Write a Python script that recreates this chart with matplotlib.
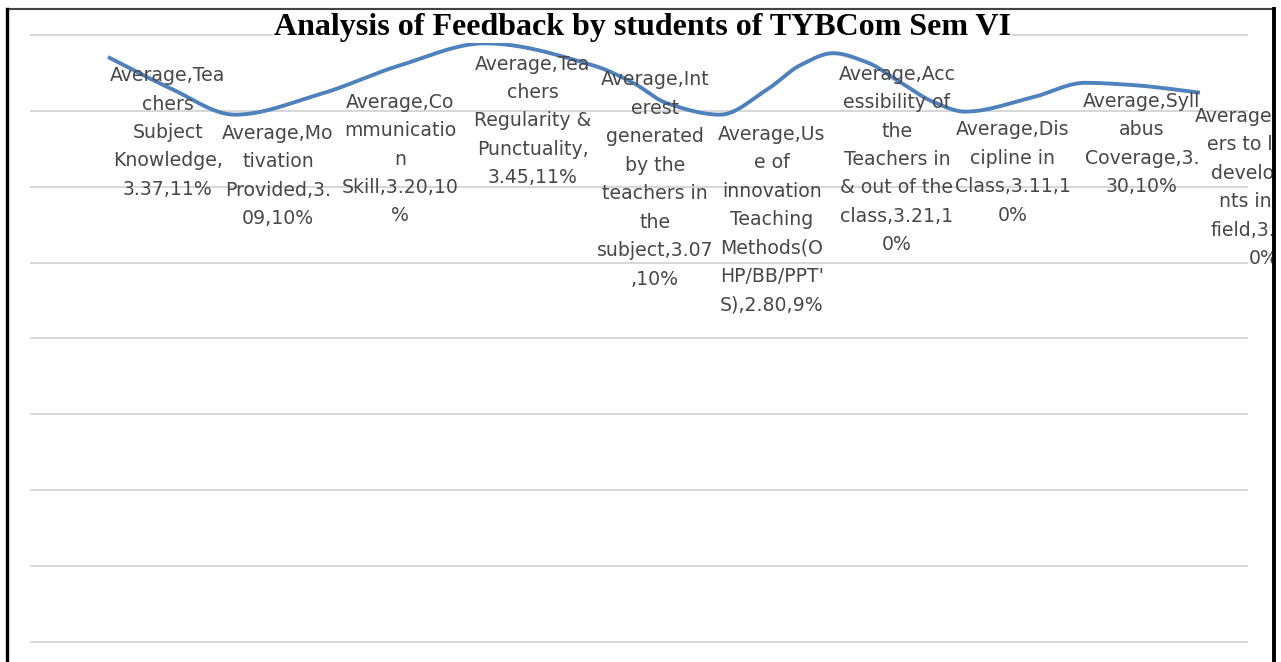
import numpy as np
import matplotlib
matplotlib.use("Agg")
import matplotlib.pyplot as plt
from matplotlib.lines import Line2D
from matplotlib.transforms import Bbox, TransformedBbox

# --- data ---
series_name = "Average"
categories = [
    "Teachers Subject Knowledge",
    "Motivation Provided",
    "Communication Skill",
    "Teachers Regularity & Punctuality",
    "Interest generated by the teachers in the subject",
    "Use of innovation Teaching Methods(OHP/BB/PPT'S)",
    "Accessibility of the Teachers in & out of the class",
    "Discipline in Class",
    "Syllabus Coverage",
    "Teachers to latest developments in the field",
]
values = [3.37, 3.09, 3.20, 3.45, 3.07, 2.80, 3.21, 3.11, 3.30, 3.25]
percents = [11, 10, 10, 11, 10, 9, 10, 10, 10, 10]

# the wavy blue line (chart units, value axis 0..8)
curve_x = [78, 140, 205, 290, 370, 455, 563, 603, 637, 690, 737, 770,
           803, 837, 870, 903, 935, 1003, 1055, 1103, 1170]
curve_y = [7.71, 7.30, 6.95, 7.22, 7.60, 7.89, 7.60, 7.37, 7.10, 6.95,
           7.28, 7.60, 7.76, 7.64, 7.38, 7.12, 6.99, 7.18, 7.37, 7.34, 7.24]

grid_values = [0, 1, 2, 3, 4, 5, 6, 7, 8]

# --- layout: where each label sits and how excel wrapped it ---
label_x = [138, 248, 370, 503, 625, 742, 867, 983, 1112, 1234]
label_y = [6.715, 6.142, 6.365, 6.867, 6.096, 5.568, 6.359, 6.188, 6.563, 5.990]
label_breaks = [
    [11, 5, 7, 10],
    [10, 8, 11],
    [10, 10, 1, 13],
    [11, 5, 12, 12],
    [11, 5, 9, 6, 11, 3, 12],
    [10, 4, 10, 8, 9, 10],
    [11, 13, 3, 11, 12, 12],
    [11, 10, 12],
    [12, 4, 11],
    [13, 13, 9, 10, 12],
]


def wrap_label(text, breaks):
    lines = []
    rest = text
    for n in breaks:
        lines.append(rest[:n].strip())
        rest = rest[n:].lstrip()
    lines.append(rest)
    return "\n".join(lines)


def smooth(xs, ys, steps=40):
    # monotone cubic (pchip) so the bumps stay where they were read
    x = np.asarray(xs, float)
    y = np.asarray(ys, float)
    h = np.diff(x)
    d = np.diff(y) / h
    m = np.zeros_like(y)
    for k in range(1, len(x) - 1):
        if d[k - 1] * d[k] > 0:
            w1 = 2 * h[k] + h[k - 1]
            w2 = h[k] + 2 * h[k - 1]
            m[k] = (w1 + w2) / (w1 / d[k - 1] + w2 / d[k])
    m[0] = d[0]
    m[-1] = d[-1]
    px, py = [], []
    for k in range(len(x) - 1):
        t = np.linspace(0, 1, steps)
        h00 = 2 * t**3 - 3 * t**2 + 1
        h10 = t**3 - 2 * t**2 + t
        h01 = -2 * t**3 + 3 * t**2
        h11 = t**3 - t**2
        px.append(x[k] + t * h[k])
        py.append(h00 * y[k] + h10 * h[k] * m[k] + h01 * y[k + 1] + h11 * h[k] * m[k + 1])
    return np.concatenate(px), np.concatenate(py)


W, H = 1281, 662
fig = plt.figure(figsize=(W / 100, H / 100), dpi=100)
fig.patch.set_facecolor("white")

# axes span: x from px 30 to 1248, y gridlines 0..8 at px 642..35
ppu = (642 - 35) / 8.0
ylo, yhi = -0.3, 8.3
bottom_px = 642 + 0.3 * ppu
top_px = 35 - 0.3 * ppu
ax = fig.add_axes([30 / W, (H - bottom_px) / H, (1248 - 30) / W, (bottom_px - top_px) / H])
ax.set_xlim(0, 1218)
ax.set_ylim(ylo, yhi)
ax.set_facecolor("none")
for s in ax.spines.values():
    s.set_visible(False)
ax.set_xticks([])
ax.set_yticks(grid_values)
ax.tick_params(axis="y", length=0, labelleft=False)
ax.yaxis.grid(True, color="#d6d6d6", linewidth=1.4)
ax.set_axisbelow(True)

sx, sy = smooth(curve_x, curve_y)
ax.plot(sx, sy, color="#4f81bd", linewidth=2.8, solid_capstyle="butt", zorder=3)

# the last label runs past the right frame and is cut there, as in the screenshot
clip = TransformedBbox(Bbox([[0, 0], [1272 / W, 1]]), fig.transFigure)
for i, cat in enumerate(categories):
    full = f"{series_name},{cat},{values[i]:.2f},{percents[i]}%"
    t = ax.text(label_x[i], label_y[i], wrap_label(full, label_breaks[i]),
                ha="center", va="center", multialignment="center",
                fontsize=13.6, family="DejaVu Sans", color="#484848",
                linespacing=1.63, zorder=4)
    t.set_clip_box(clip)
    t.set_clip_on(True)

fig.text(642 / W, 1 - 27 / H, "Analysis of Feedback by students of TYBCom Sem VI",
         ha="center", va="center", fontsize=23, fontweight="bold",
         family="Liberation Serif", color="black",
         bbox=dict(facecolor="white", edgecolor="none", pad=1))

# frame of the screenshot
fig.add_artist(Line2D([7 / W, 1274 / W], [1 - 9 / H, 1 - 9 / H], transform=fig.transFigure,
                      color="#444444", linewidth=1.5))
fig.add_artist(Line2D([7 / W, 7 / W], [0, 1 - 9 / H], transform=fig.transFigure,
                      color="black", linewidth=2.4))
fig.add_artist(Line2D([1274 / W, 1274 / W], [0, 1 - 9 / H], transform=fig.transFigure,
                      color="black", linewidth=2.8))

fig.savefig("out.png", dpi=100)
